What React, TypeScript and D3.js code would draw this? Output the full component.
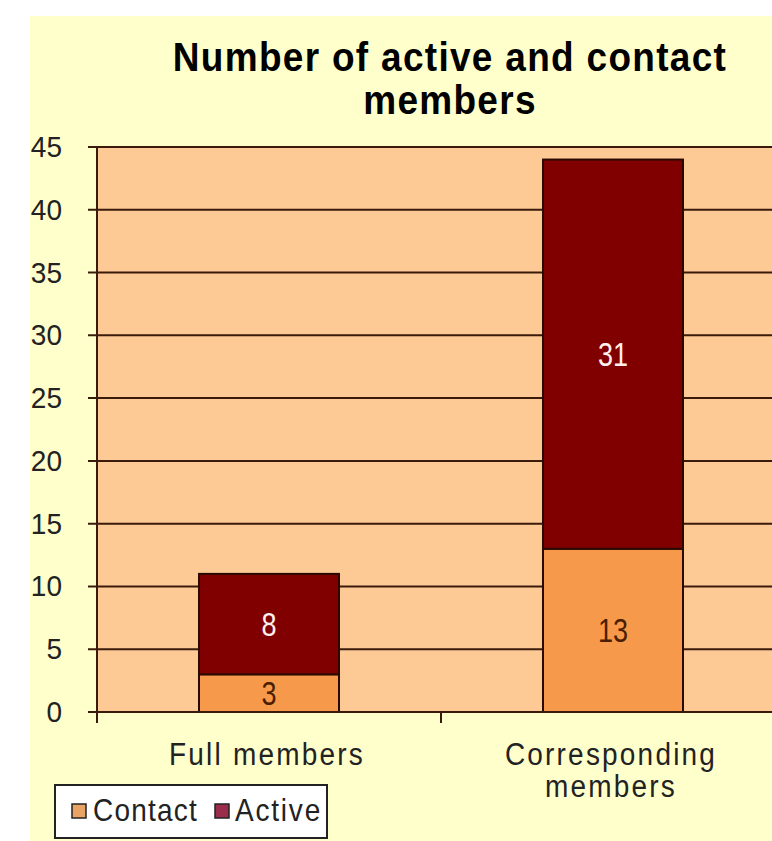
import React from "react";
import * as d3 from "d3";

const categories = ["Full members", "Corresponding members"];
const categoryLines = [["Full members"], ["Corresponding", "members"]];
const contactValues = [3, 13];
const activeValues = [8, 31];
const seriesNames = ["Contact", "Active"];
const yTicks = [0, 5, 10, 15, 20, 25, 30, 35, 40, 45];

const width = 772;
const height = 841;
const plot = { left: 97, right: 785, top: 147, bottom: 712 };
const font = "'Liberation Sans', Arial, sans-serif";

const colors = {
  page: "#ffffcc",
  plot: "#fdc995",
  grid: "#3a1a0a",
  contact: "#f7994a",
  active: "#800000",
  legendContact: "#e9a365",
  legendActive: "#9a2c4c",
};

// text stretched a little vertically, like the source picture
function Txt(props: any) {
  const { x, y, sy = 1.15, children, ...rest } = props;
  return (
    <g transform={`translate(${x},${y}) scale(1,${sy})`}>
      <text x={0} y={0} fontFamily={font} {...rest}>
        {children}
      </text>
    </g>
  );
}

export default function App() {
  const yScale = d3.scaleLinear().domain([0, 45]).range([plot.bottom, plot.top]);
  const xScale = d3.scaleBand<string>().domain(categories).range([plot.left, plot.right]);
  const barWidth = xScale.bandwidth() * 0.407;

  const rows = categories.map((c, i) => ({ cat: c, Contact: contactValues[i], Active: activeValues[i] }));
  const stacked = d3.stack<any>().keys(seriesNames)(rows);
  const fills = [colors.contact, colors.active];
  const labelColors = ["#4a1e00", "#fff0f0"];

  return (
    <svg width={width} height={height} style={{ position: "absolute", left: 0, top: 0 }}>
      <rect x={0} y={0} width={width} height={height} fill="#ffffff" />
      <rect x={30} y={16} width={width - 30} height={height - 16} fill={colors.page} />

      <Txt x={450} y={71} sy={1.12} textAnchor="middle" fontWeight="bold" fontSize={37} letterSpacing={1.3} fill="#000">
        Number of active and contact
      </Txt>
      <Txt x={450} y={114} sy={1.12} textAnchor="middle" fontWeight="bold" fontSize={37} letterSpacing={1.3} fill="#000">
        members
      </Txt>

      <rect x={plot.left} y={plot.top} width={plot.right - plot.left} height={plot.bottom - plot.top} fill={colors.plot} />

      {yTicks.map((t) => (
        <g key={t}>
          <line x1={88} x2={plot.right} y1={yScale(t)} y2={yScale(t)} stroke={colors.grid} strokeWidth={2} />
          <Txt x={62} y={yScale(t) + 10} sy={1.05} textAnchor="end" fontSize={28} fill="#222">
            {t}
          </Txt>
        </g>
      ))}

      {stacked.map((layer, si) =>
        layer.map((d, ci) => {
          const x0 = (xScale(categories[ci]) as number) + (xScale.bandwidth() - barWidth) / 2;
          const yTop = yScale(d[1]);
          const yBot = yScale(d[0]);
          return (
            <g key={`${si}-${ci}`}>
              <rect x={x0} y={yTop} width={barWidth} height={yBot - yTop} fill={fills[si]} stroke="#2a0a00" strokeWidth={2} />
              <Txt
                x={x0 + barWidth / 2}
                y={(yTop + yBot) / 2 + 12}
                sy={1.2}
                textAnchor="middle"
                fontSize={27}
                fill={labelColors[si]}
              >
                {d[1] - d[0]}
              </Txt>
            </g>
          );
        })
      )}

      <line x1={plot.left} x2={plot.left} y1={plot.top} y2={plot.bottom + 11} stroke={colors.grid} strokeWidth={2} />
      <line x1={plot.left} x2={plot.right} y1={plot.bottom} y2={plot.bottom} stroke={colors.grid} strokeWidth={2} />
      {categories.slice(1).map((c) => (
        <line key={c} x1={xScale(c)} x2={xScale(c)} y1={plot.bottom} y2={plot.bottom + 11} stroke={colors.grid} strokeWidth={2} />
      ))}

      {categoryLines.map((lines, i) =>
        lines.map((ln, j) => (
          <Txt
            key={`${i}-${j}`}
            x={(xScale(categories[i]) as number) + xScale.bandwidth() / 2 - 2}
            y={765 + j * 32}
            sy={1.1}
            textAnchor="middle"
            fontSize={28}
            letterSpacing={2.2}
            fill="#222"
          >
            {ln}
          </Txt>
        ))
      )}

      <rect x={55} y={785} width={272} height={53} fill="#ffffff" stroke="#222" strokeWidth={2} />
      <rect x={72} y={804} width={14} height={14} fill={colors.legendContact} stroke="#222" strokeWidth={1.5} />
      <Txt x={93} y={821} sy={1.12} fontSize={28} letterSpacing={1.2} fill="#222">
        {seriesNames[0]}
      </Txt>
      <rect x={215} y={804} width={14} height={14} fill={colors.legendActive} stroke="#222" strokeWidth={1.5} />
      <Txt x={235} y={821} sy={1.12} fontSize={28} letterSpacing={1.8} fill="#222">
        {seriesNames[1]}
      </Txt>
    </svg>
  );
}
